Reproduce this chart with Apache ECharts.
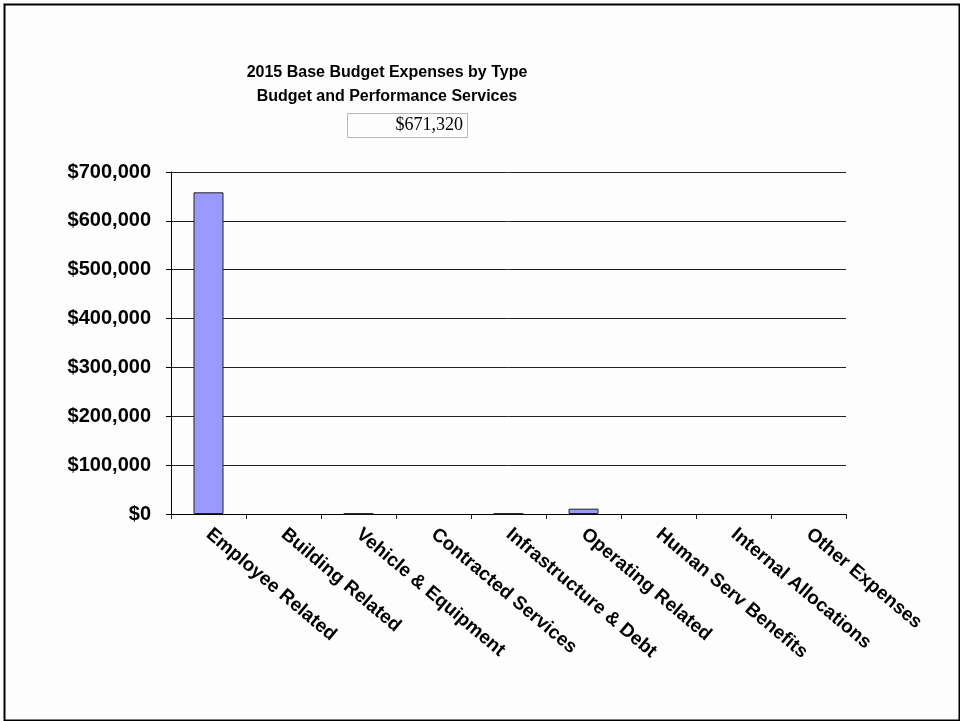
<!DOCTYPE html>
<html>
<head>
<meta charset="utf-8">
<script src="https://cdn.jsdelivr.net/npm/echarts@6/dist/echarts.min.js"></script>
<style>
  html, body { margin: 0; padding: 0; background: #fdfdfd; }
  #chart { width: 960px; height: 721px; }
</style>
</head>
<body>
<div id="chart"></div>
<script>
// Expense categories and their base budget amounts (USD)
const categories = [
  'Employee Related', 'Building Related', 'Vehicle & Equipment',
  'Contracted Services', 'Infrastructure & Debt', 'Operating Related',
  'Human Serv Benefits', 'Internal Allocations', 'Other Expenses'
];
const expenses = [658400, 0, 1020, 0, 1000, 10900, 0, 0, 0];
const titleLines = ['2015 Base Budget Expenses by Type', 'Budget and Performance Services'];
const yTicks = [0, 100000, 200000, 300000, 400000, 500000, 600000, 700000];

const FONT = '"Liberation Sans", Arial, Helvetica, sans-serif';
const money = v => '$' + Math.round(v).toLocaleString('en-US');
const total = expenses.reduce((a, b) => a + b, 0);

// empty categories get no outline, so nothing is drawn for them
const barData = expenses.map(v => ({
  value: v,
  itemStyle: v === 0 ? { borderWidth: 0, opacity: 0 } : undefined
}));

const chart = echarts.init(document.getElementById('chart'), null, { renderer: 'canvas' });

chart.setOption({
  backgroundColor: '#fdfdfd',
  animation: false,
  grid: { left: 171, right: 114, top: 172, bottom: 207, containLabel: false },
  xAxis: {
    type: 'category',
    data: categories,
    boundaryGap: true,
    axisLine: { lineStyle: { color: '#000', width: 1 } },
    axisTick: { show: true, alignWithLabel: false, length: 5, lineStyle: { color: '#222' } },
    axisLabel: {
      interval: 0,
      rotate: -40,
      margin: 18,
      color: '#000',
      fontFamily: FONT,
      fontWeight: 'bold',
      fontSize: 19
    }
  },
  yAxis: {
    type: 'value',
    min: yTicks[0],
    max: yTicks[yTicks.length - 1],
    interval: yTicks[1] - yTicks[0],
    axisLine: { show: true, lineStyle: { color: '#000', width: 1 } },
    axisTick: { show: true, length: 5, lineStyle: { color: '#000' } },
    splitLine: { show: true, lineStyle: { color: '#222', width: 1 } },
    axisLabel: {
      margin: 20,
      color: '#000',
      fontFamily: FONT,
      fontWeight: 'bold',
      fontSize: 20,
      formatter: v => money(v)
    }
  },
  series: [{
    type: 'bar',
    data: barData,
    barWidth: '40%',
    itemStyle: { color: '#9999ff', borderColor: '#222', borderWidth: 1 }
  }],
  graphic: [
    // page frame
    {
      type: 'rect', left: 2, top: 2, z: 100, silent: true,
      shape: { width: 955, height: 716 },
      style: { fill: 'none', stroke: '#000', lineWidth: 2 }
    },
    {
      type: 'text', z: 100,
      style: {
        x: 387, y: 61, text: titleLines.join('\n'), textAlign: 'center',
        fill: '#000', font: 'bold 16px ' + FONT, lineHeight: 24
      }
    },
    // total amount box
    {
      type: 'rect', z: 100,
      shape: { x: 347.5, y: 113.5, width: 120, height: 24 },
      style: { fill: '#fdfdfd', stroke: '#b8b8b8', lineWidth: 1 }
    },
    {
      type: 'text', z: 101,
      style: {
        x: 463, y: 125.5, text: money(total), textAlign: 'right', textVerticalAlign: 'middle',
        fill: '#000', font: '18px "Liberation Serif", "Times New Roman", serif'
      }
    }
  ]
});
</script>
</body>
</html>
